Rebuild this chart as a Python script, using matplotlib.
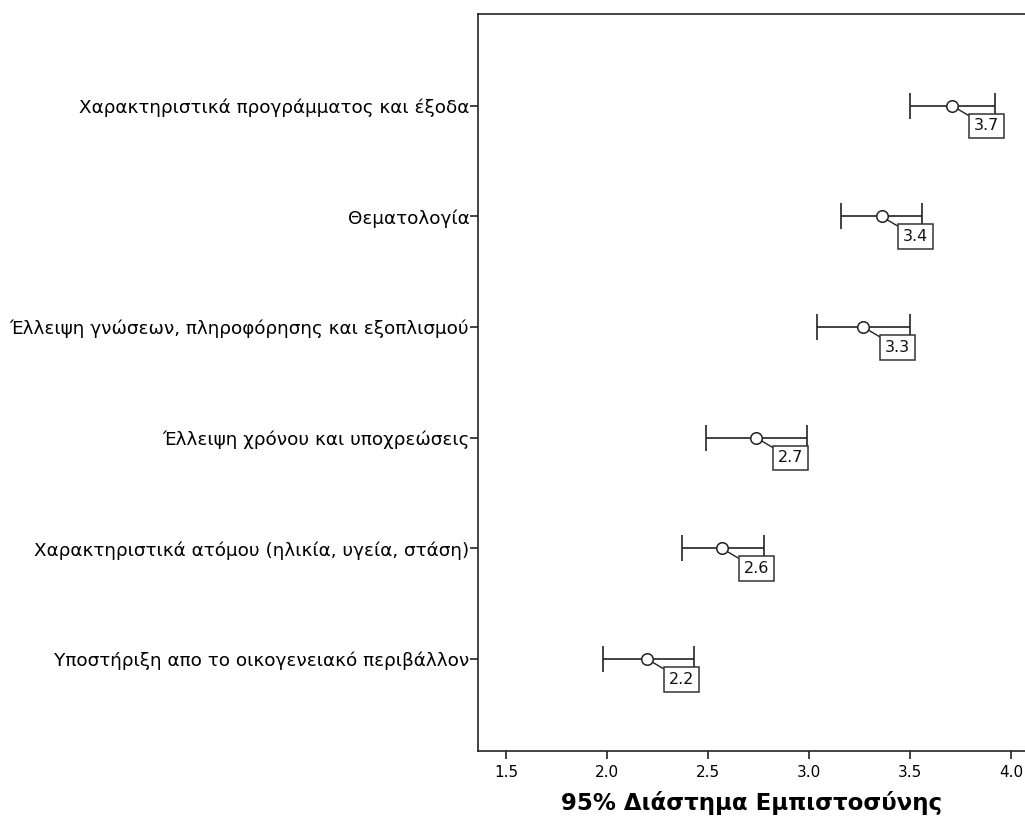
import numpy as np
import matplotlib.pyplot as plt

# Μέσοι όροι και 95% διαστήματα εμπιστοσύνης ανά παράγοντα
categories = [
    "Χαρακτηριστικά προγράμματος και έξοδα",
    "Θεματολογία",
    "Έλλειψη γνώσεων, πληροφόρησης και εξοπλισμού",
    "Έλλειψη χρόνου και υποχρεώσεις",
    "Χαρακτηριστικά ατόμου (ηλικία, υγεία, στάση)",
    "Υποστήριξη απο το οικογενειακό περιβάλλον",
]
means = [3.71, 3.36, 3.27, 2.74, 2.57, 2.20]
ci_low = [3.50, 3.16, 3.04, 2.49, 2.37, 1.98]
ci_high = [3.92, 3.56, 3.50, 2.99, 2.78, 2.43]

xticks = [1.5, 2.0, 2.5, 3.0, 3.5, 4.0]

fig = plt.figure(figsize=(10.25, 8.23), dpi=100)
ax = fig.add_axes([0.466, 0.0875, 0.534, 0.8955])

n = len(categories)
ypos = np.arange(n)[::-1]
means = np.array(means)
err = np.array([means - np.array(ci_low), np.array(ci_high) - means])

line_col = "#222222"
ax.errorbar(means, ypos, xerr=err, fmt="none", ecolor=line_col,
            elinewidth=1.2, capsize=9.4, capthick=1.2, zorder=2)
ax.plot(means, ypos, "o", mfc="white", mec=line_col, mew=1.1, ms=8.3, zorder=4)

for m, y in zip(means, ypos):
    ax.annotate("{:.1f}".format(m), xy=(m, y), xytext=(24.5, -14.5),
                textcoords="offset points", ha="center", va="center",
                fontsize=11.5, color="#111111",
                bbox=dict(boxstyle="square,pad=0.3", fc="white", ec="#333333", lw=1.1),
                arrowprops=dict(arrowstyle="-", color=line_col, lw=1.0,
                                shrinkA=0, shrinkB=4.5),
                zorder=5)

ax.set_xlim(1.36, 4.07)
ax.set_ylim(-0.83, n - 1 + 0.83)
ax.set_xticks(xticks)
ax.set_xticklabels(["{:.1f}".format(t) for t in xticks], fontsize=11)
ax.set_yticks(ypos)
ax.set_yticklabels(categories, fontsize=13.2)
ax.tick_params(axis="both", direction="out", length=6, width=1.2, color=line_col)
ax.tick_params(axis="y", pad=0)
ax.tick_params(axis="x", pad=4)

ax.spines["right"].set_visible(False)
for s in ["left", "top", "bottom"]:
    ax.spines[s].set_linewidth(1.2)
    ax.spines[s].set_color(line_col)

ax.set_xlabel("95% Διάστημα Εμπιστοσύνης", fontsize=16.5, fontweight="bold", labelpad=8)

fig.savefig("out.png", dpi=100)
